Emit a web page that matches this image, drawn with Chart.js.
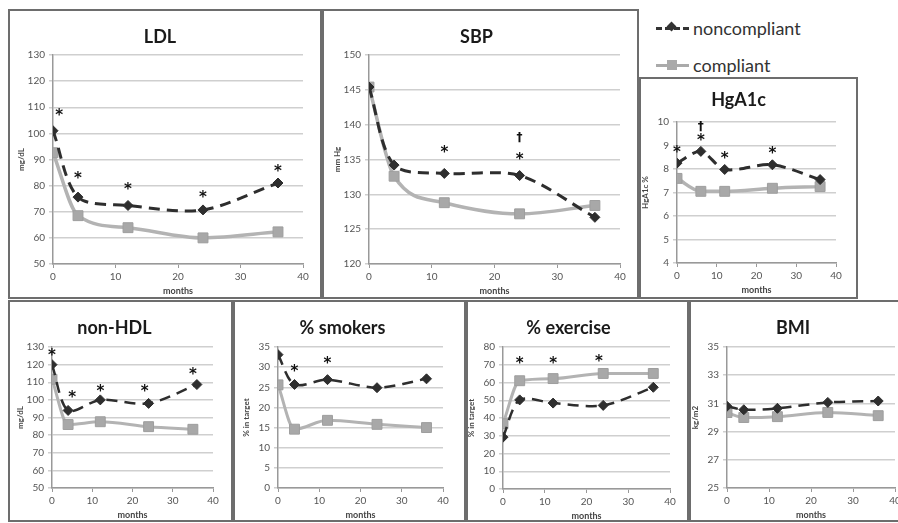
<!DOCTYPE html>
<html><head><meta charset="utf-8">
<script src="https://cdn.jsdelivr.net/npm/chart.js@4.4.0/dist/chart.umd.min.js"></script>
<style>
html,body{margin:0;padding:0;background:#fff;width:898px;height:523px;overflow:hidden;position:relative;font-family:Lato,sans-serif}
.cv{position:absolute}
.frame{position:absolute;box-sizing:border-box;border:2px solid #6d6d6d;pointer-events:none}
#legend{position:absolute;left:656px;top:14px;font-family:Lato,sans-serif;font-size:18px;color:#333}
.lg{position:relative;height:37px;line-height:28px;padding-left:37px}
.sym{position:absolute;left:0;top:13px;width:33px;height:0}
.sym.non{border-top:3px dashed #333}
.sym.com{border-top:3px solid #aaa}
.sym.non::after{content:"";position:absolute;left:12px;top:-7px;width:7px;height:7px;background:#333;transform:rotate(45deg)}
.sym.com::after{content:"";position:absolute;left:11px;top:-7px;width:10px;height:10px;background:#aaa}
</style></head><body>
<div id="legend">
  <div class="lg"><span class="sym non"></span>noncompliant</div>
  <div class="lg"><span class="sym com"></span>compliant</div>
</div>
<script>
// ---- data ----
const monthsA = [0, 4, 12, 24, 36];
const monthsHb = [0, 6, 12, 24, 36];
const monthsNonHdlComp = [0, 4, 12, 24, 35];

const ldlNon = [101, 75.6, 72.4, 70.7, 81];
const ldlComp = [92.6, 68.5, 63.9, 60, 62.3];
const ldlMarks = [[1, 107.6, '*'], [4, 83.7, '*'], [12, 79.4, '*'], [24, 76.4, '*'], [36, 86.5, '*']];

const sbpNon = [145.4, 134.2, 133.0, 132.7, 126.7];
const sbpComp = [145.4, 132.6, 128.8, 127.2, 128.4];
const sbpMarks = [[12, 136.3, '*'], [24, 135.4, '*'], [24, 138.1, '†']];

const hbNon = [8.25, 8.75, 7.98, 8.18, 7.55];
const hbComp = [7.6, 7.05, 7.05, 7.18, 7.25];
const hbMarks = [[0, 8.8, '*'], [6, 9.3, '*'], [6, 9.8, '†'], [12, 8.55, '*'], [24, 8.75, '*']];

const nhdlNon = [120, 94, 100, 98, 108.7];
const nhdlComp = [111.7, 86, 87.6, 84.8, 83.3];
const nhdlMarks = [[0, 126.5, '*'], [5, 102.5, '*'], [12, 106.3, '*'], [23, 106, '*'], [35, 116, '*']];

const smkNon = [33.1, 25.7, 26.9, 24.9, 27.1];
const smkComp = [25.6, 14.6, 16.8, 15.8, 15.0];
const smkMarks = [[4, 29.5, '*'], [12, 31.5, '*']];

const exNon = [29.2, 50.2, 48.4, 47.1, 57.3];
const exComp = [36.8, 61, 62.2, 65.1, 65.1];
const exMarks = [[4, 71.8, '*'], [12, 71.8, '*'], [23, 73, '*']];

const bmiNon = [30.8, 30.55, 30.65, 31.07, 31.17];
const bmiComp = [30.35, 30.0, 30.06, 30.36, 30.13];
const bmiMarks = [];

// ---- panels (layout) ----
const panels = [
  {title:'LDL', yTitle:'mg/dL', xs:monthsA, xsC:monthsA, non:ldlNon, comp:ldlComp, marks:ldlMarks, min:50, max:130, step:10,
   box:{x:8,y:9,w:314,h:290}, area:{l:53,t:55,r:303,b:264}, titleY:37, lw:3},
  {title:'SBP', yTitle:'mm Hg', xs:monthsA, xsC:monthsA, non:sbpNon, comp:sbpComp, marks:sbpMarks, min:120, max:150, step:5,
   box:{x:322,y:9,w:317,h:290}, area:{l:369,t:55,r:620,b:264}, titleY:37, lw:3},
  {title:'HgA1c', yTitle:'HgA1c %', xs:monthsHb, xsC:monthsHb, non:hbNon, comp:hbComp, marks:hbMarks, min:4, max:10, step:1,
   box:{x:639,y:77,w:219,h:222}, area:{l:677,t:122,r:836,b:263}, titleY:100, lw:3},
  {title:'non-HDL', yTitle:'mg/dL', xs:monthsA, xsC:monthsNonHdlComp, non:nhdlNon, comp:nhdlComp, marks:nhdlMarks, min:50, max:130, step:10,
   box:{x:8,y:300,w:225,h:222}, area:{l:52,t:347,r:213,b:488}, titleY:328, lw:2.5},
  {title:'% smokers', yTitle:'% in target', xs:monthsA, xsC:monthsA, non:smkNon, comp:smkComp, marks:smkMarks, min:0, max:35, step:5,
   box:{x:233,y:300,w:233,h:222}, area:{l:278,t:347,r:443,b:488}, titleY:328, lw:2.5},
  {title:'% exercise', yTitle:'% in target', xs:monthsA, xsC:monthsA, non:exNon, comp:exComp, marks:exMarks, min:0, max:80, step:10,
   box:{x:466,y:300,w:223,h:222}, area:{l:503,t:347,r:670,b:489}, titleY:328, lw:2.5},
  {title:'BMI', yTitle:'kg/m2', xs:monthsA, xsC:monthsA, non:bmiNon, comp:bmiComp, marks:bmiMarks, min:25, max:35, step:2,
   box:{x:689,y:300,w:218,h:222}, area:{l:727,t:347,r:895,b:488}, titleY:328, lw:2.5}
];

const markPlugin = {
  id:'marks',
  afterDatasetsDraw(chart, args, opts){
    const items = opts.items || [];
    const xs = chart.scales.x, ys = chart.scales.y, ctx = chart.ctx;
    ctx.save();
    ctx.fillStyle = '#111';
    ctx.textAlign = 'center';
    ctx.textBaseline = 'middle';
    for (const m of items){
      const px = xs.getPixelForValue(m[0]), py = ys.getPixelForValue(m[1]);
      if (m[2] === '*'){ ctx.font = 'bold 15px "DejaVu Sans"'; ctx.fillText('*', px, py + 3); }
      else { ctx.font = 'bold 12px "DejaVu Sans"'; ctx.fillText(m[2], px, py); }
    }
    ctx.restore();
  }
};

const yW = 36, xH = 32, tSize = 18, tLH = 1.2;
for (const p of panels){
  const div = document.createElement('div');
  div.className = 'cv';
  Object.assign(div.style, {left:p.box.x+'px', top:p.box.y+'px', width:p.box.w+'px', height:p.box.h+'px'});
  const c = document.createElement('canvas');
  div.appendChild(c);
  document.body.appendChild(div);
  const fr = document.createElement('div');
  fr.className = 'frame';
  Object.assign(fr.style, {left:p.box.x+'px', top:p.box.y+'px', width:p.box.w+'px', height:p.box.h+'px'});
  document.body.appendChild(fr);

  const tb = tSize * tLH;
  const tPadTop = (p.titleY - p.box.y) - tb/2;
  const tPadBot = (p.area.t - p.box.y) - tPadTop - tb;
  const padL = (p.area.l - p.box.x) - yW;
  const padR = (p.box.x + p.box.w) - p.area.r;
  const padB = (p.box.y + p.box.h) - p.area.b - xH;

  new Chart(c, {
    type:'line',
    data:{datasets:[
      {label:'compliant', data:p.xsC.map((x,i)=>({x, y:p.comp[i]})), borderColor:'#b3b3b3', backgroundColor:'#a8a8a8',
       borderWidth:p.lw+0.5, pointStyle:'rect', pointRadius:7, pointBorderColor:'#9e9e9e', pointBorderWidth:1, tension:0.35, cubicInterpolationMode:'monotone', order:2},
      {label:'noncompliant', data:p.xs.map((x,i)=>({x, y:p.non[i]})), borderColor:'#2e2e2e', backgroundColor:'#2e2e2e',
       borderWidth:p.lw, borderDash:[11,7], pointStyle:'rectRot', pointRadius:5, pointBorderWidth:1, tension:0.3, order:1}
    ]},
    options:{
      responsive:true, maintainAspectRatio:false, animation:false, events:[],
      layout:{padding:{left:padL, right:padR, top:0, bottom:padB}},
      plugins:{
        legend:{display:false}, tooltip:{enabled:false},
        title:{display:true, text:p.title, color:'#1a1a1a', font:{family:'Lato', size:tSize, weight:'bold', lineHeight:tLH}, padding:{top:tPadTop, bottom:tPadBot}},
        marks:{items:p.marks}
      },
      scales:{
        x:{type:'linear', min:0, max:40,
           ticks:{stepSize:10, color:'#555', font:{family:'Lato', size:10}, padding:3},
           grid:{drawOnChartArea:false, tickLength:4, color:'#999'}, border:{color:'#999', width:1.5},
           title:{display:true, text:'months', color:'#444', font:{family:'Lato', size:9, weight:'bold'}, padding:{top:0,bottom:0}},
           afterFit(s){ s.height = xH; }},
        y:{min:p.min, max:p.max,
           ticks:{stepSize:p.step, color:'#555', font:{family:'Lato', size:10}, padding:4},
           grid:{color:'#cfcfcf', lineWidth:1.5, tickLength:4}, border:{color:'#999', width:1.5},
           title:{display:true, text:p.yTitle, color:'#444', font:{family:'Lato', size:8, weight:'bold'}, padding:{top:0,bottom:2}},
           afterFit(s){ s.width = yW; }}
      }
    },
    plugins:[markPlugin]
  });
}
</script>
</body></html>
